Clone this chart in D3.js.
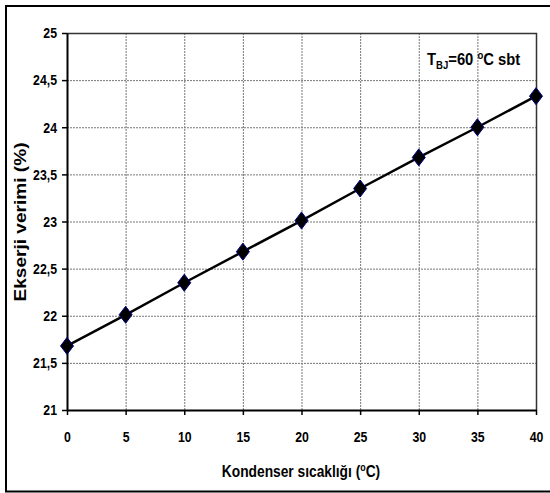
<!DOCTYPE html>
<html>

<head>
  <meta charset="utf-8">
  <script src="https://d3js.org/d3.v7.min.js"></script>
  <style>
    body { margin: 0; background: #fff; }
    text { font-family: "Liberation Sans", Arial, sans-serif; font-weight: bold; fill: #000; }
  </style>
</head>

<body>
  <div id="my_dataviz"></div>
  <script>
    // data
    var temps = [0, 5, 10, 15, 20, 25, 30, 35, 40];
    var verim = [21.68, 22.01, 22.35, 22.68, 23.01, 23.35, 23.68, 24.00, 24.33];
    var xTicks = [0, 5, 10, 15, 20, 25, 30, 35, 40];
    var yTicks = [21, 21.5, 22, 22.5, 23, 23.5, 24, 24.5, 25];

    var data = temps.map(function (t, i) { return { t: t, v: verim[i] }; });

    var margin = { top: 33, right: 14, bottom: 83, left: 67 },
      width = 550 - margin.left - margin.right,
      height = 493 - margin.top - margin.bottom;

    var narrow = 0.82; // fake the Arial Narrow look

    var root = d3.select("#my_dataviz")
      .append("svg")
      .attr("width", 550)
      .attr("height", 493);

    // outer frame
    root.append("rect")
      .attr("x", 6).attr("y", 6)
      .attr("width", 600).attr("height", 485.5)
      .attr("fill", "none")
      .attr("stroke", "#000")
      .attr("stroke-width", 2);

    var svg = root.append("g")
      .attr("transform", "translate(" + margin.left + "," + margin.top + ")");

    var x = d3.scaleLinear().domain([0, 40]).range([0, width]);
    var y = d3.scaleLinear().domain([21, 25]).range([height, 0]);

    var fmt = function (d) { return String(d).replace(".", ","); };

    // grid
    svg.selectAll("vgrid")
      .data(xTicks.slice(1, -1))
      .enter().append("line")
      .attr("x1", function (d) { return x(d) + 0.5; })
      .attr("x2", function (d) { return x(d) + 0.5; })
      .attr("y1", 0).attr("y2", height)
      .attr("stroke", "#777")
      .attr("stroke-dasharray", "2,1");

    svg.selectAll("hgrid")
      .data(yTicks.slice(1, -1))
      .enter().append("line")
      .attr("y1", function (d) { return y(d) + 0.5; })
      .attr("y2", function (d) { return y(d) + 0.5; })
      .attr("x1", 0).attr("x2", width)
      .attr("stroke", "#777")
      .attr("stroke-dasharray", "2,1");

    // top / right border
    svg.append("path")
      .attr("d", "M0," + (y(25) + 0.5) + "H" + (x(40) + 0.5) + "V" + height)
      .attr("fill", "none")
      .attr("stroke", "#333")
      .attr("stroke-width", 1.5);

    // axes
    var xAxis = svg.append("g")
      .attr("transform", "translate(0," + height + ")")
      .call(d3.axisBottom(x).tickValues(xTicks).tickSize(5).tickPadding(16).tickSizeOuter(0));
    var yAxis = svg.append("g")
      .call(d3.axisLeft(y).tickValues(yTicks).tickFormat(fmt).tickSize(5).tickPadding(5).tickSizeOuter(0));

    [xAxis, yAxis].forEach(function (a) {
      a.select(".domain").attr("stroke", "#000").attr("stroke-width", 2);
      a.selectAll(".tick line").attr("stroke", "#000").attr("stroke-width", 1.5);
      a.selectAll("text").style("font-size", "15px").attr("fill", "#000")
        .style("font-family", "'Liberation Sans', Arial, sans-serif");
    });
    xAxis.selectAll(".tick text").attr("transform", "scale(" + narrow + ",1)");
    yAxis.selectAll(".tick text")
      .attr("x", -10 / narrow)
      .attr("transform", "scale(" + narrow + ",1)");

    // line
    svg.append("path")
      .datum(data)
      .attr("fill", "none")
      .attr("stroke", "#000")
      .attr("stroke-width", 2.5)
      .attr("d", d3.line()
        .x(function (d) { return x(d.t); })
        .y(function (d) { return y(d.v); }));

    // diamonds
    svg.selectAll("mydiamond")
      .data(data)
      .enter()
      .append("path")
      .attr("transform", function (d) { return "translate(" + x(d.t) + "," + y(d.v) + ")"; })
      .attr("d", "M0,-8.5L6.5,0L0,8.5L-6.5,0Z")
      .attr("fill", "#000")
      .attr("stroke", "#000080")
      .attr("stroke-width", 1);

    // annotation
    var ann = root.append("text")
      .attr("transform", "translate(427,65) scale(0.87,1)")
      .style("font-size", "17px");
    ann.append("tspan").text("T");
    ann.append("tspan").attr("dy", 4).style("font-size", "11px").text("BJ");
    ann.append("tspan").attr("dy", -4).text("=60 ");
    ann.append("tspan").attr("dy", -6).style("font-size", "11px").text("o");
    ann.append("tspan").attr("dy", 6).text("C sbt");

    // x title
    var xt = root.append("text")
      .attr("transform", "translate(301,477) scale(0.81,1)")
      .attr("text-anchor", "middle")
      .style("font-size", "17px");
    xt.append("tspan").text("Kondenser sıcaklığı (");
    xt.append("tspan").attr("dy", -6).style("font-size", "11px").text("o");
    xt.append("tspan").attr("dy", 6).text("C)");

    // y title
    root.append("text")
      .attr("transform", "translate(26,222) rotate(-90)")
      .attr("text-anchor", "middle")
      .attr("textLength", 159)
      .attr("lengthAdjust", "spacingAndGlyphs")
      .style("font-size", "17px")
      .text("Ekserji verimi (%)");
  </script>
</body>

</html>
